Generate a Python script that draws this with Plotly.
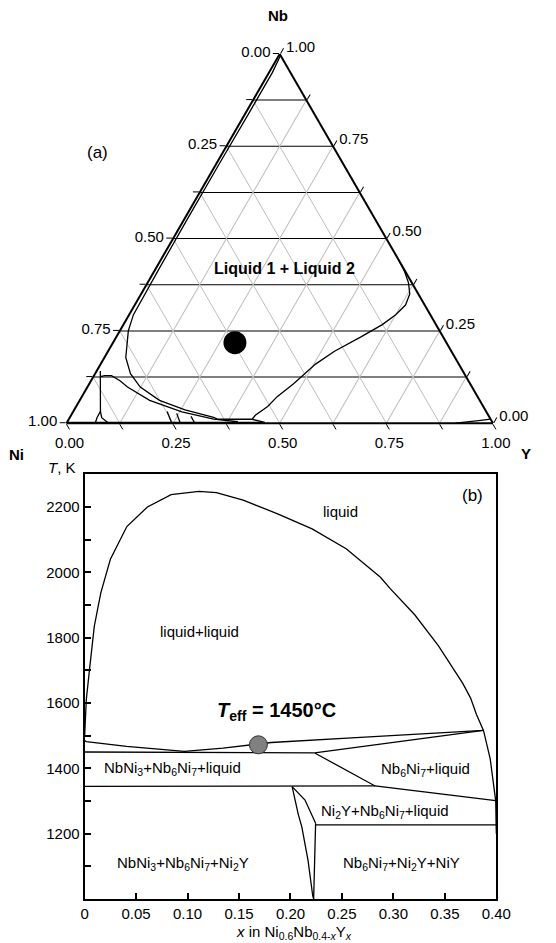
import plotly.graph_objects as go

FONT = "Liberation Sans, Arial, sans-serif"
W, H = 540, 935          # page body has an 8 px margin
OFF = 8

# ---------------- (a) ternary Ni-Nb-Y : compositions as (Nb, Y), Ni = 1 - Nb - Y
tern_ticks = [0, 0.125, 0.25, 0.375, 0.5, 0.625, 0.75, 0.875, 1.0]
tern_labels = ["1.00", "", "0.75", "", "0.50", "", "0.25", "", "0.00"]

gap_nb = [0.995, 0.95, 0.85, 0.70, 0.55, 0.42, 0.294, 0.25, 0.214, 0.178, 0.134, 0.098,
          0.062, 0.036, 0.016, 0.0107, 0.0107, 0.0214, 0.0455, 0.072, 0.107, 0.160,
          0.195, 0.233, 0.267, 0.294, 0.32, 0.35, 0.38, 0.41, 0.4375]
gap_y = [0.004, 0.008, 0.008, 0.007, 0.007, 0.008, 0.010, 0.020, 0.035, 0.050, 0.083, 0.124,
         0.187, 0.260, 0.337, 0.350, 0.430, 0.432, 0.449, 0.458, 0.479, 0.504,
         0.531, 0.573, 0.607, 0.625, 0.635, 0.630, 0.612, 0.588, 0.5625]

hump_nb = [0.126, 0.129, 0.129, 0.115, 0.098, 0.062, 0.031, 0.011, 0.004]
hump_y = [0.016, 0.025, 0.041, 0.068, 0.094, 0.164, 0.255, 0.340, 0.400]

vert_nb = [0.1417, 0.032, 0.015, 0.0, None, 0.032, 0.015, 0.0]
vert_y = [0.0085, 0.0636, 0.064, 0.0674, None, 0.0636, 0.075, 0.099]

short_nb = [0.032, 0.0, None, 0.0267, 0.0, None, 0.0187, 0.0]
short_y = [0.220, 0.247, None, 0.245, 0.267, None, 0.2826, 0.301]

foot_nb = [0.0107, 0.002, None, 0.002, 0.002]
foot_y = [0.430, 0.464, None, 0.0, 0.46]

ycorner_nb = [0.0, 0.0072, 0.011]
ycorner_y = [0.912, 0.963, 0.989]

point_nb = [0.218]
point_y = [0.286]

# ---------------- (b) isopleth Ni0.6Nb0.4-xYx : x, T (K)
dome_x = [0.0, 0.0008, 0.0016, 0.0047, 0.0094, 0.0157, 0.025, 0.041, 0.061, 0.084, 0.111,
          0.128, 0.154, 0.1875, 0.221, 0.2541, 0.2625, 0.2874, 0.2969, 0.3207, 0.3438,
          0.3674, 0.375, 0.3807, 0.3875, 0.394, 0.3984, 0.3994, 0.3998, 0.4]
dome_T = [1500, 1560, 1610, 1702, 1835, 1937, 2040, 2140, 2200, 2238, 2248,
          2244, 2221, 2179, 2133, 2072, 2050, 1985, 1950, 1870, 1775,
          1660, 1615, 1565, 1516, 1430, 1324, 1300, 1226, 1200]

liq_x = [0.0, 0.0016, 0.0407, 0.0969, 0.1344, 0.1594, 0.1813, 0.2594, 0.3875]
liq_T = [1485, 1482, 1467, 1452, 1462, 1472, 1479, 1493, 1516]

eut_x = [0.0, 0.2235]
eut_T = [1450, 1447]

upper_x = [0.2235, 0.3875]
upper_T = [1447, 1516]

diag_x = [0.2235, 0.2822, 0.3994]
diag_T = [1447, 1346, 1301]

per_x = [0.0, 0.2822]
per_T = [1345, 1346]

curveA_x = [0.2016, 0.2141, 0.2244]
curveA_T = [1344, 1303, 1232]

curveB_x = [0.2016, 0.2075, 0.211, 0.217, 0.2216, 0.2225]
curveB_T = [1344, 1260, 1221, 1119, 1010, 1000]

vline_x = [0.2244, 0.2225]
vline_T = [1232, 1000]

low_x = [0.2244, 0.4]
low_T = [1227, 1227]

teff_x = [0.1688]
teff_T = [1472]

x_ticks = [0, 0.05, 0.10, 0.15, 0.20, 0.25, 0.30, 0.35, 0.40]
x_labels = ["0", "0.05", "0.10", "0.15", "0.20", "0.25", "0.30", "0.35", "0.40"]
T_ticks = [1000, 1100, 1200, 1300, 1400, 1500, 1600, 1700, 1800, 1900, 2000, 2100, 2200, 2300]
T_labels = ["", "", "1200", "", "1400", "", "1600", "", "1800", "", "2000", "", "2200", ""]

phase_text = ["liquid", "liquid+liquid", "NbNi<sub>3</sub>+Nb<sub>6</sub>Ni<sub>7</sub>+liquid",
              "Nb<sub>6</sub>Ni<sub>7</sub>+liquid", "Ni<sub>2</sub>Y+Nb<sub>6</sub>Ni<sub>7</sub>+liquid",
              "NbNi<sub>3</sub>+Nb<sub>6</sub>Ni<sub>7</sub>+Ni<sub>2</sub>Y",
              "Nb<sub>6</sub>Ni<sub>7</sub>+Ni<sub>2</sub>Y+NiY"]
phase_x = [0.249, 0.112, 0.0849, 0.3313, 0.2915, 0.0959, 0.3083]
phase_T = [2186, 1820, 1398, 1395, 1267, 1108, 1108]


def ni_of(nb, y):
    return [None if a is None else 1 - a - b for a, b in zip(nb, y)]


def px(X):
    return (X - OFF) / W


def py(Y):
    return 1 - (Y - OFF) / H


fig = go.Figure()

line_style = dict(color="black", width=1.3)
for nb, yy in [(gap_nb, gap_y), (hump_nb, hump_y), (vert_nb, vert_y), (short_nb, short_y),
               (foot_nb, foot_y), (ycorner_nb, ycorner_y)]:
    fig.add_trace(go.Scatterternary(a=nb, b=ni_of(nb, yy), c=yy, mode="lines",
                                    line=line_style, showlegend=False, hoverinfo="skip"))
fig.add_trace(go.Scatterternary(a=point_nb, b=ni_of(point_nb, point_y), c=point_y, mode="markers",
                                marker=dict(color="black", size=23), showlegend=False, hoverinfo="skip"))

for xs, ts in [(dome_x, dome_T), (liq_x, liq_T), (eut_x, eut_T), (upper_x, upper_T),
               (diag_x, diag_T), (per_x, per_T), (curveA_x, curveA_T), (curveB_x, curveB_T),
               (vline_x, vline_T), (low_x, low_T)]:
    fig.add_trace(go.Scatter(x=xs, y=ts, mode="lines", line=line_style,
                             showlegend=False, hoverinfo="skip"))
fig.add_trace(go.Scatter(x=teff_x, y=teff_T, mode="markers",
                         marker=dict(color="#808080", size=18, line=dict(color="#333333", width=1)),
                         showlegend=False, hoverinfo="skip"))

tick_font = dict(family=FONT, size=15, color="black")


def tern_axis(grid):
    return dict(tickmode="array", tickvals=tern_ticks, ticktext=tern_labels,
                showgrid=True, gridcolor=grid, gridwidth=1,
                linecolor="black", linewidth=2, showline=True,
                ticks="outside", ticklen=6, tickcolor="black", tickwidth=1,
                tickfont=tick_font, title=dict(text=""), min=0)


fig.update_layout(
    width=W, height=H,
    margin=dict(l=0, r=0, t=0, b=0),
    paper_bgcolor="white", plot_bgcolor="white",
    showlegend=False,
    font=dict(family=FONT, color="black"),
    ternary=dict(
        domain=dict(x=[0.1046, 0.9231], y=[0.5234, 0.9834]),
        bgcolor="white", sum=1,
        aaxis=tern_axis("black"),
        baxis=tern_axis("#bdbdbd"),
        caxis=tern_axis("#bdbdbd"),
    ),
    xaxis=dict(domain=[px(83.3), px(510)], range=[0, 0.4], tickmode="array",
               tickvals=x_ticks, ticktext=x_labels, ticks="inside", ticklen=6, tickwidth=2,
               tickcolor="black", showline=True, linewidth=2, linecolor="black", mirror=True,
               showgrid=False, zeroline=False, tickfont=tick_font),
    yaxis=dict(domain=[py(899), py(474.3)], range=[1000, 2300], tickmode="array",
               tickvals=T_ticks, ticktext=T_labels, ticks="inside", ticklen=6, tickwidth=2,
               tickcolor="black", showline=True, linewidth=2, linecolor="black", mirror=True,
               showgrid=False, zeroline=False, tickfont=tick_font),
)


def paper_note(X, Y, text, size, **kw):
    d = dict(x=px(X), y=py(Y), xref="paper", yref="paper", text=text, showarrow=False,
             xanchor="center", yanchor="middle",
             font=dict(family=FONT, size=size, color="black"))
    d.update(kw)
    return d


ann = []
for t, xv, tv in zip(phase_text, phase_x, phase_T):
    ann.append(dict(x=xv, y=tv, xref="x", yref="y", text=t, showarrow=False,
                    xanchor="center", yanchor="middle",
                    font=dict(family=FONT, size=15, color="black")))
ann.append(dict(x=0.186, y=1575, xref="x", yref="y", xanchor="center", yanchor="middle",
                text="<b><i>T</i><sub>eff</sub> = 1450°C</b>", showarrow=False,
                font=dict(family=FONT, size=20, color="black")))
ann.append(dict(x=0.377, y=2236, xref="x", yref="y", text="(b)", showarrow=False,
                xanchor="center", yanchor="middle",
                font=dict(family=FONT, size=17, color="black")))
ann.append(paper_note(76, 467, "<i>T</i>, K", 15, xanchor="right"))
ann.append(paper_note(300, 921, "<i>x</i> in Ni<sub>0.6</sub>Nb<sub>0.4-<i>x</i></sub>Y<sub><i>x</i></sub>",
                      15, yanchor="top"))
ann.append(paper_note(284, 16, "<b>Nb</b>", 15))
ann.append(paper_note(13, 454, "<b>Ni</b>", 15))
ann.append(paper_note(541, 453, "<b>Y</b>", 15))
ann.append(paper_note(97, 152, "(a)", 17))
ann.append(paper_note(290, 268, "<b>Liquid 1 + Liquid 2</b>", 16))
fig.update_layout(annotations=ann)

fig.write_html("out.html")
